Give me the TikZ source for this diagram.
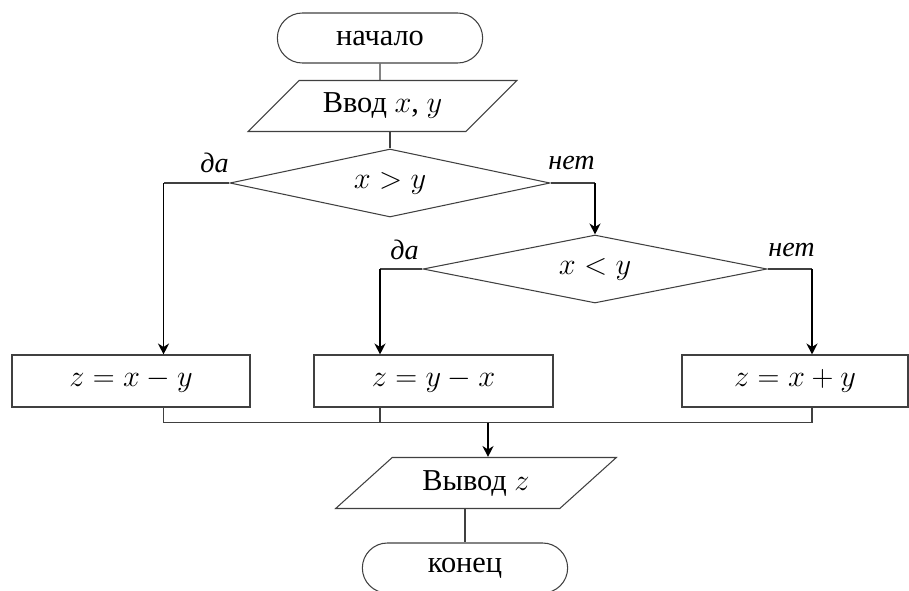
\documentclass[tikz,border=0pt]{standalone}
\usepackage{fontspec}
\setmainfont{Liberation Serif}
\usetikzlibrary{arrows.meta, positioning, shapes.geometric, shapes.misc}

\begin{document}
\begin{tikzpicture}[
    every node/.style={font=\fontsize{17.28}{20}\selectfont},
    line/.style={draw=black!75, line width=0.6pt},
    arrow/.style={draw=black, line width=0.8pt, -{Stealth[length=2.2mm, width=2.2mm]}},
    term/.style={rounded rectangle, line, minimum width=4.34cm, minimum height=1cm},
    io/.style={trapezium, trapezium left angle=43, trapezium right angle=137,
        trapezium stretches=true, line, minimum height=1.02cm},
    cond/.style={diamond, aspect=5, line, minimum height=1.36cm, inner sep=0pt},
    action/.style={rectangle, line, minimum height=1.04cm},
    answer/.style={font=\itshape\fontsize{16}{18}\selectfont}
]
\useasboundingbox (0,0) rectangle (18.18,-11.8);

% ---- blocks ----
\node[term] (start) at (7.6,-0.76) {начало};
\node[io, minimum width=5.38cm] (input) at (7.65,-2.12) {Ввод $x$, $y$};
\node[cond, minimum width=6.4cm] (gt) at (7.8,-3.66) {$x > y$};
\node[cond, minimum width=6.88cm] (lt) at (11.9,-5.38) {$x < y$};

\node[action, minimum width=4.76cm] (diff1) at (2.62,-7.62) {$z = x - y$};
\node[action, minimum width=4.78cm] (diff2) at (8.67,-7.62) {$z = y - x$};
\node[action, minimum width=4.52cm] (sum) at (15.9,-7.62) {$z = x + y$};

\node[io, minimum width=5.62cm] (output) at (9.52,-9.66) {Вывод $z$};
\node[term] (stop) at (9.3,-11.36) {конец};

% ---- branch labels ----
\node[answer] (yes1) at ([xshift=-0.3cm, yshift=0.4cm]gt.west) {да};
\node[answer] (no1) at ([xshift=0.42cm, yshift=0.4cm]gt.east) {нет};
\node[answer] (yes2) at ([xshift=-0.36cm, yshift=0.38cm]lt.west) {да};
\node[answer] (no2) at ([xshift=0.48cm, yshift=0.38cm]lt.east) {нет};

% bend points
\coordinate (left1) at (3.27,-3.66);
\coordinate (left2) at (7.6,-5.38);
\coordinate (right2) at (16.24,-5.38);
\coordinate (merge) at (9.76,-8.45);

% ---- connectors ----
\draw[line] (start) -- (start |- input.north);
\draw[line] (gt.north |- input.south) -- (gt.north);

\draw[line] (gt.west) -- (left1);
\draw[arrow] (left1) -- (left1 |- diff1.north);
\draw[line] (gt.east) -- (gt.east -| lt.north);
\draw[arrow] (gt.east -| lt.north) -- (lt.north);

\draw[line] (lt.west) -- (left2);
\draw[arrow] (left2) -- (left2 |- diff2.north);
\draw[line] (lt.east) -- (right2);
\draw[arrow] (right2) -- (right2 |- sum.north);

% collecting the three results
\draw[line] (left1 |- diff1.south) -- (left1 |- merge) -- (right2 |- merge) -- (right2 |- sum.south);
\draw[line] (left2 |- diff2.south) -- (left2 |- merge);
\draw[arrow] (merge) -- (merge |- output.north);

\draw[line] (stop.north |- output.south) -- (stop.north);

\end{tikzpicture}
\end{document}
